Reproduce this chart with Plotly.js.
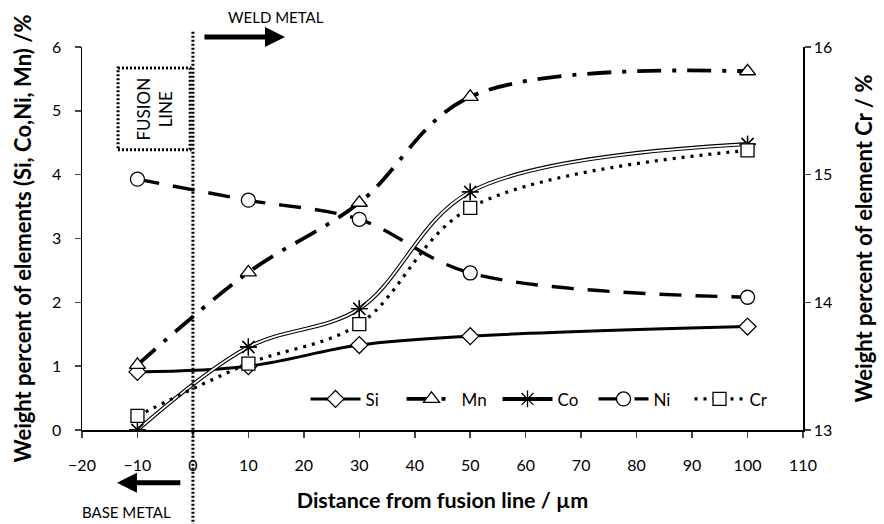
<!DOCTYPE html>
<html><head><meta charset="utf-8">
<script src="https://cdn.plot.ly/plotly-3.0.1.min.js"></script>
<style>html,body{margin:0;padding:0;background:#fff}#c{width:884px;height:524px}</style>
</head><body><div id="c"></div>
<script>
// Distance from fusion line (µm)
const distance = [-10, 10, 30, 50, 100];
// Weight percent (left axis)
const si = [0.91, 1.00, 1.33, 1.47, 1.62];
const mn = [1.02, 2.47, 3.56, 5.22, 5.62];
const co = [0.00, 1.30, 1.90, 3.73, 4.48];
const ni = [3.93, 3.60, 3.30, 2.46, 2.08];
// Weight percent Cr (right axis)
const cr = [13.11, 13.52, 13.83, 14.74, 15.19];
const xTicks = [-20,-10,0,10,20,30,40,50,60,70,80,90,100,110];

const F = 'Lato, "Open Sans", sans-serif';
const mk = (sym, size) => ({symbol: sym, size: size, color: '#fff', line: {color: '#000', width: 1.3}});
const ast = {symbol: 'asterisk-open', size: 14, color: '#000', line: {color: '#000', width: 1.3}};

const traces = [
  {x: distance, y: si, name: 'Si', mode: 'lines+markers',
   line: {color: '#000', width: 3, shape: 'spline'}, marker: mk('diamond', 13)},
  {x: distance, y: mn, name: 'Mn', mode: 'lines+markers',
   line: {color: '#000', width: 3.8, shape: 'spline', dash: '24px,11px,4px,11px'}, marker: mk('triangle-up', 14)},
  {x: distance, y: co, name: 'Co', mode: 'lines+markers',
   line: {color: '#000', width: 4, shape: 'spline'}, marker: ast},
  {x: distance, y: co, name: 'Co-inner', showlegend: false, mode: 'lines', hoverinfo: 'skip',
   line: {color: '#fff', width: 1.8, shape: 'spline'}},
  {x: distance, y: co, name: 'Co-marks', showlegend: false, mode: 'markers', hoverinfo: 'skip',
   marker: ast},
  {x: distance, y: ni, name: 'Ni', mode: 'lines+markers',
   line: {color: '#000', width: 3.4, shape: 'spline', dash: '22px,14px'}, marker: mk('circle', 14)},
  {x: distance, y: cr, name: 'Cr', mode: 'lines+markers', yaxis: 'y2',
   line: {color: '#000', width: 3.2, shape: 'spline', dash: '3px,6px'}, marker: mk('square', 13)}
];

const layout = {
  width: 884, height: 524,
  margin: {l: 82, r: 81, t: 47, b: 94},
  paper_bgcolor: '#fff', plot_bgcolor: '#fff',
  font: {family: F, color: '#000', size: 16},
  showlegend: true,
  legend: {orientation: 'h', x: 0.31, y: 0.08, xanchor: 'left', yanchor: 'middle',
           itemwidth: 50, entrywidth: 31, entrywidthmode: 'pixels',
           bgcolor: 'rgba(0,0,0,0)', font: {size: 17, family: F}, traceorder: 'normal'},
  xaxis: {range: [-20, 110], tickvals: xTicks, ticks: 'outside', ticklen: 6, tickwidth: 1.5,
          ticklabelstandoff: 14,
          showline: true, linecolor: '#000', linewidth: 1.5, showgrid: false, zeroline: false,
          tickfont: {size: 16},
          title: {text: 'Distance from fusion line / µm', font: {size: 21.5, weight: 'bold'}, standoff: 20}},
  yaxis: {range: [0, 6], dtick: 1, ticks: 'outside', ticklen: 6, tickwidth: 1.5,
          ticklabelstandoff: 10,
          showline: true, linecolor: '#000', linewidth: 1.5, showgrid: false, zeroline: false,
          tickfont: {size: 16},
          title: {text: 'Weight percent of elements (Si, Co,Ni, Mn) /%', font: {size: 22, weight: 'bold'}, standoff: 14}},
  yaxis2: {range: [13, 16], dtick: 1, overlaying: 'y', side: 'right', ticks: 'outside', ticklen: 6, tickwidth: 1.5,
          showline: true, linecolor: '#000', linewidth: 1.5, showgrid: false, zeroline: false,
          tickfont: {size: 16},
          title: {text: 'Weight percent of element Cr / %', font: {size: 22, weight: 'bold'}, standoff: 25}},
  shapes: [
    {type: 'line', xref: 'x', yref: 'paper', x0: 0, x1: 0, y0: -0.25, y1: 1.04,
     line: {color: '#000', width: 3, dash: '2px,2px'}},
    {type: 'rect', xref: 'x', yref: 'y', x0: -13.5, x1: -0.5, y0: 4.39, y1: 5.67,
     line: {color: '#000', width: 3, dash: '2px,2px'}}
  ],
  annotations: [
    {xref: 'x', yref: 'y', x: -6.9, y: 5.03, text: 'FUSION<br>LINE', textangle: -90, showarrow: false,
     font: {size: 17, family: F}},
    {xref: 'x', yref: 'paper', x: 15.0, y: 1.078, xanchor: 'center', yanchor: 'middle',
     text: 'WELD METAL', showarrow: false, font: {size: 15, family: F}},
    {xref: 'x', yref: 'paper', x: 16.6, y: 1.026, axref: 'x', ax: 1.8, ayref: 'pixel', ay: 0, text: '',
     showarrow: true, arrowhead: 2, arrowsize: 0.8, arrowwidth: 5, arrowcolor: '#000'},
    {xref: 'x', yref: 'paper', x: -11.9, y: -0.214, xanchor: 'center', yanchor: 'middle',
     text: 'BASE METAL', showarrow: false, font: {size: 15, family: F}},
    {xref: 'x', yref: 'paper', x: -13.7, y: -0.138, axref: 'x', ax: -2.0, ayref: 'pixel', ay: 0, text: '',
     showarrow: true, arrowhead: 2, arrowsize: 0.8, arrowwidth: 5, arrowcolor: '#000'}
  ]
};

Plotly.newPlot('c', traces, layout, {displayModeBar: false, staticPlot: true});
</script></body></html>
